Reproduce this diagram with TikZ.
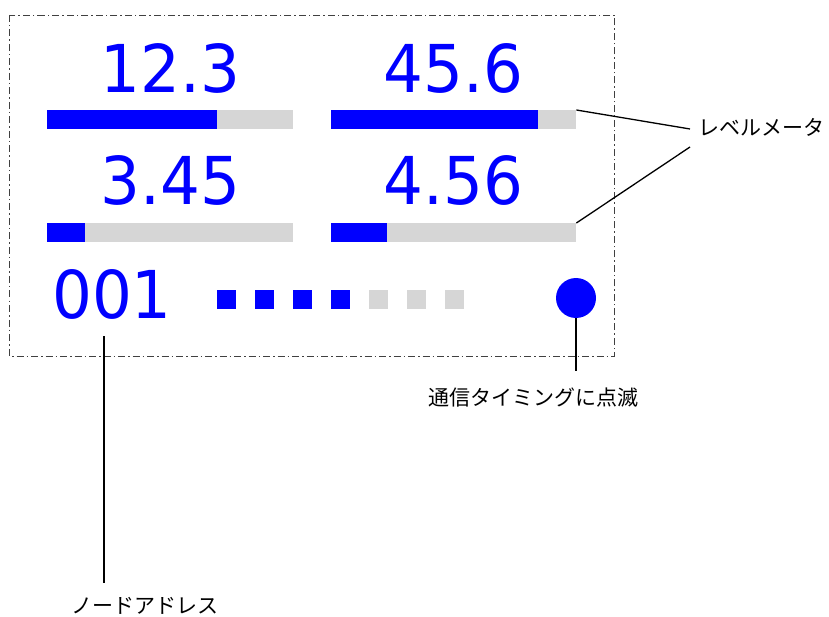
\documentclass[tikz,border=0pt]{standalone}
\usepackage{fontspec}
\usepackage{tikz}
\newfontfamily\numfont{DejaVu Sans}
\newfontfamily\jpfont{Noto Sans CJK JP}
\definecolor{lvblue}{RGB}{0,0,255}
\definecolor{lvgray}{RGB}{214,214,214}
\tikzset{
  num/.style={text=lvblue, font=\numfont\fontsize{66}{66}\selectfont, xscale=0.95, inner sep=16pt},
  track/.style={fill=lvgray, minimum height=19pt, inner sep=0pt, anchor=north west},
  cell/.style={minimum size=19pt, inner sep=0pt},
  note/.style={font=\jpfont\fontsize{21}{21}\selectfont, inner xsep=0pt, inner ysep=13pt, text height=17pt, text depth=3pt},
  lead/.style={line width=1.3pt},
  frame/.style={draw=black!75, line width=0.6pt, dash pattern=on 7pt off 3pt on 1.5pt off 3pt}
}
\begin{document}
\begin{tikzpicture}[x=1pt,y=-1pt]
        \useasboundingbox (0,0) rectangle (829,617);
        \draw[frame] (9.5,15) rectangle (614,356);
        % level meters
        \node[track, minimum width=246pt] (bar1) at (47,110) {};
        \fill[lvblue] (bar1.north west) rectangle +(170,19);
        \node[track, minimum width=245pt] (bar2) at (331,110) {};
        \fill[lvblue] (bar2.north west) rectangle +(207,19);
        \node[track, minimum width=246pt] (bar3) at (47,223) {};
        \fill[lvblue] (bar3.north west) rectangle +(38,19);
        \node[track, minimum width=245pt] (bar4) at (331,223) {};
        \fill[lvblue] (bar4.north west) rectangle +(56,19);
        \node[num, anchor=base] (val1) at ([yshift=17pt]bar1.north) {12.3};
        \node[num, anchor=base] (val2) at ([yshift=17pt]bar2.north) {45.6};
        \node[num, anchor=base] (val3) at ([yshift=18pt]bar3.north) {3.45};
        \node[num, anchor=base] (val4) at ([yshift=18pt]bar4.north) {4.56};
        % address, signal cells, led
        \node[num, anchor=base] (addr) at (112,319) {001};
        \foreach \i/\c in {0/lvblue,1/lvblue,2/lvblue,3/lvblue,4/lvgray,5/lvgray,6/lvgray}
            \node[cell, fill=\c] (cell\i) at (226.5+38*\i,299.5) {};
        \node[circle, fill=lvblue, minimum size=40pt, inner sep=0pt] (led) at (576,298) {};
        % callouts
        \node[note, anchor=base west] (lvl) at (698,136) {レベルメータ};
        \node[note, anchor=base] (blink) at (533,405.5) {通信タイミングに点滅};
        \node[note, anchor=base] (addrlbl) at (144.5,613.5) {ノードアドレス};
        \draw[lead] (bar2.north east) -- ([xshift=-8pt]lvl.west);
        \draw[lead] (bar4.north east) -- ([xshift=-8pt,yshift=-18pt]lvl.west);
        \draw[lead] (led.south) -- ([yshift=4pt]led.south |- blink.north);
        \draw[lead] ([xshift=-8pt]addr.south) -- ([xshift=-8pt]addr.south |- addrlbl.north);
\end{tikzpicture}
\end{document}
